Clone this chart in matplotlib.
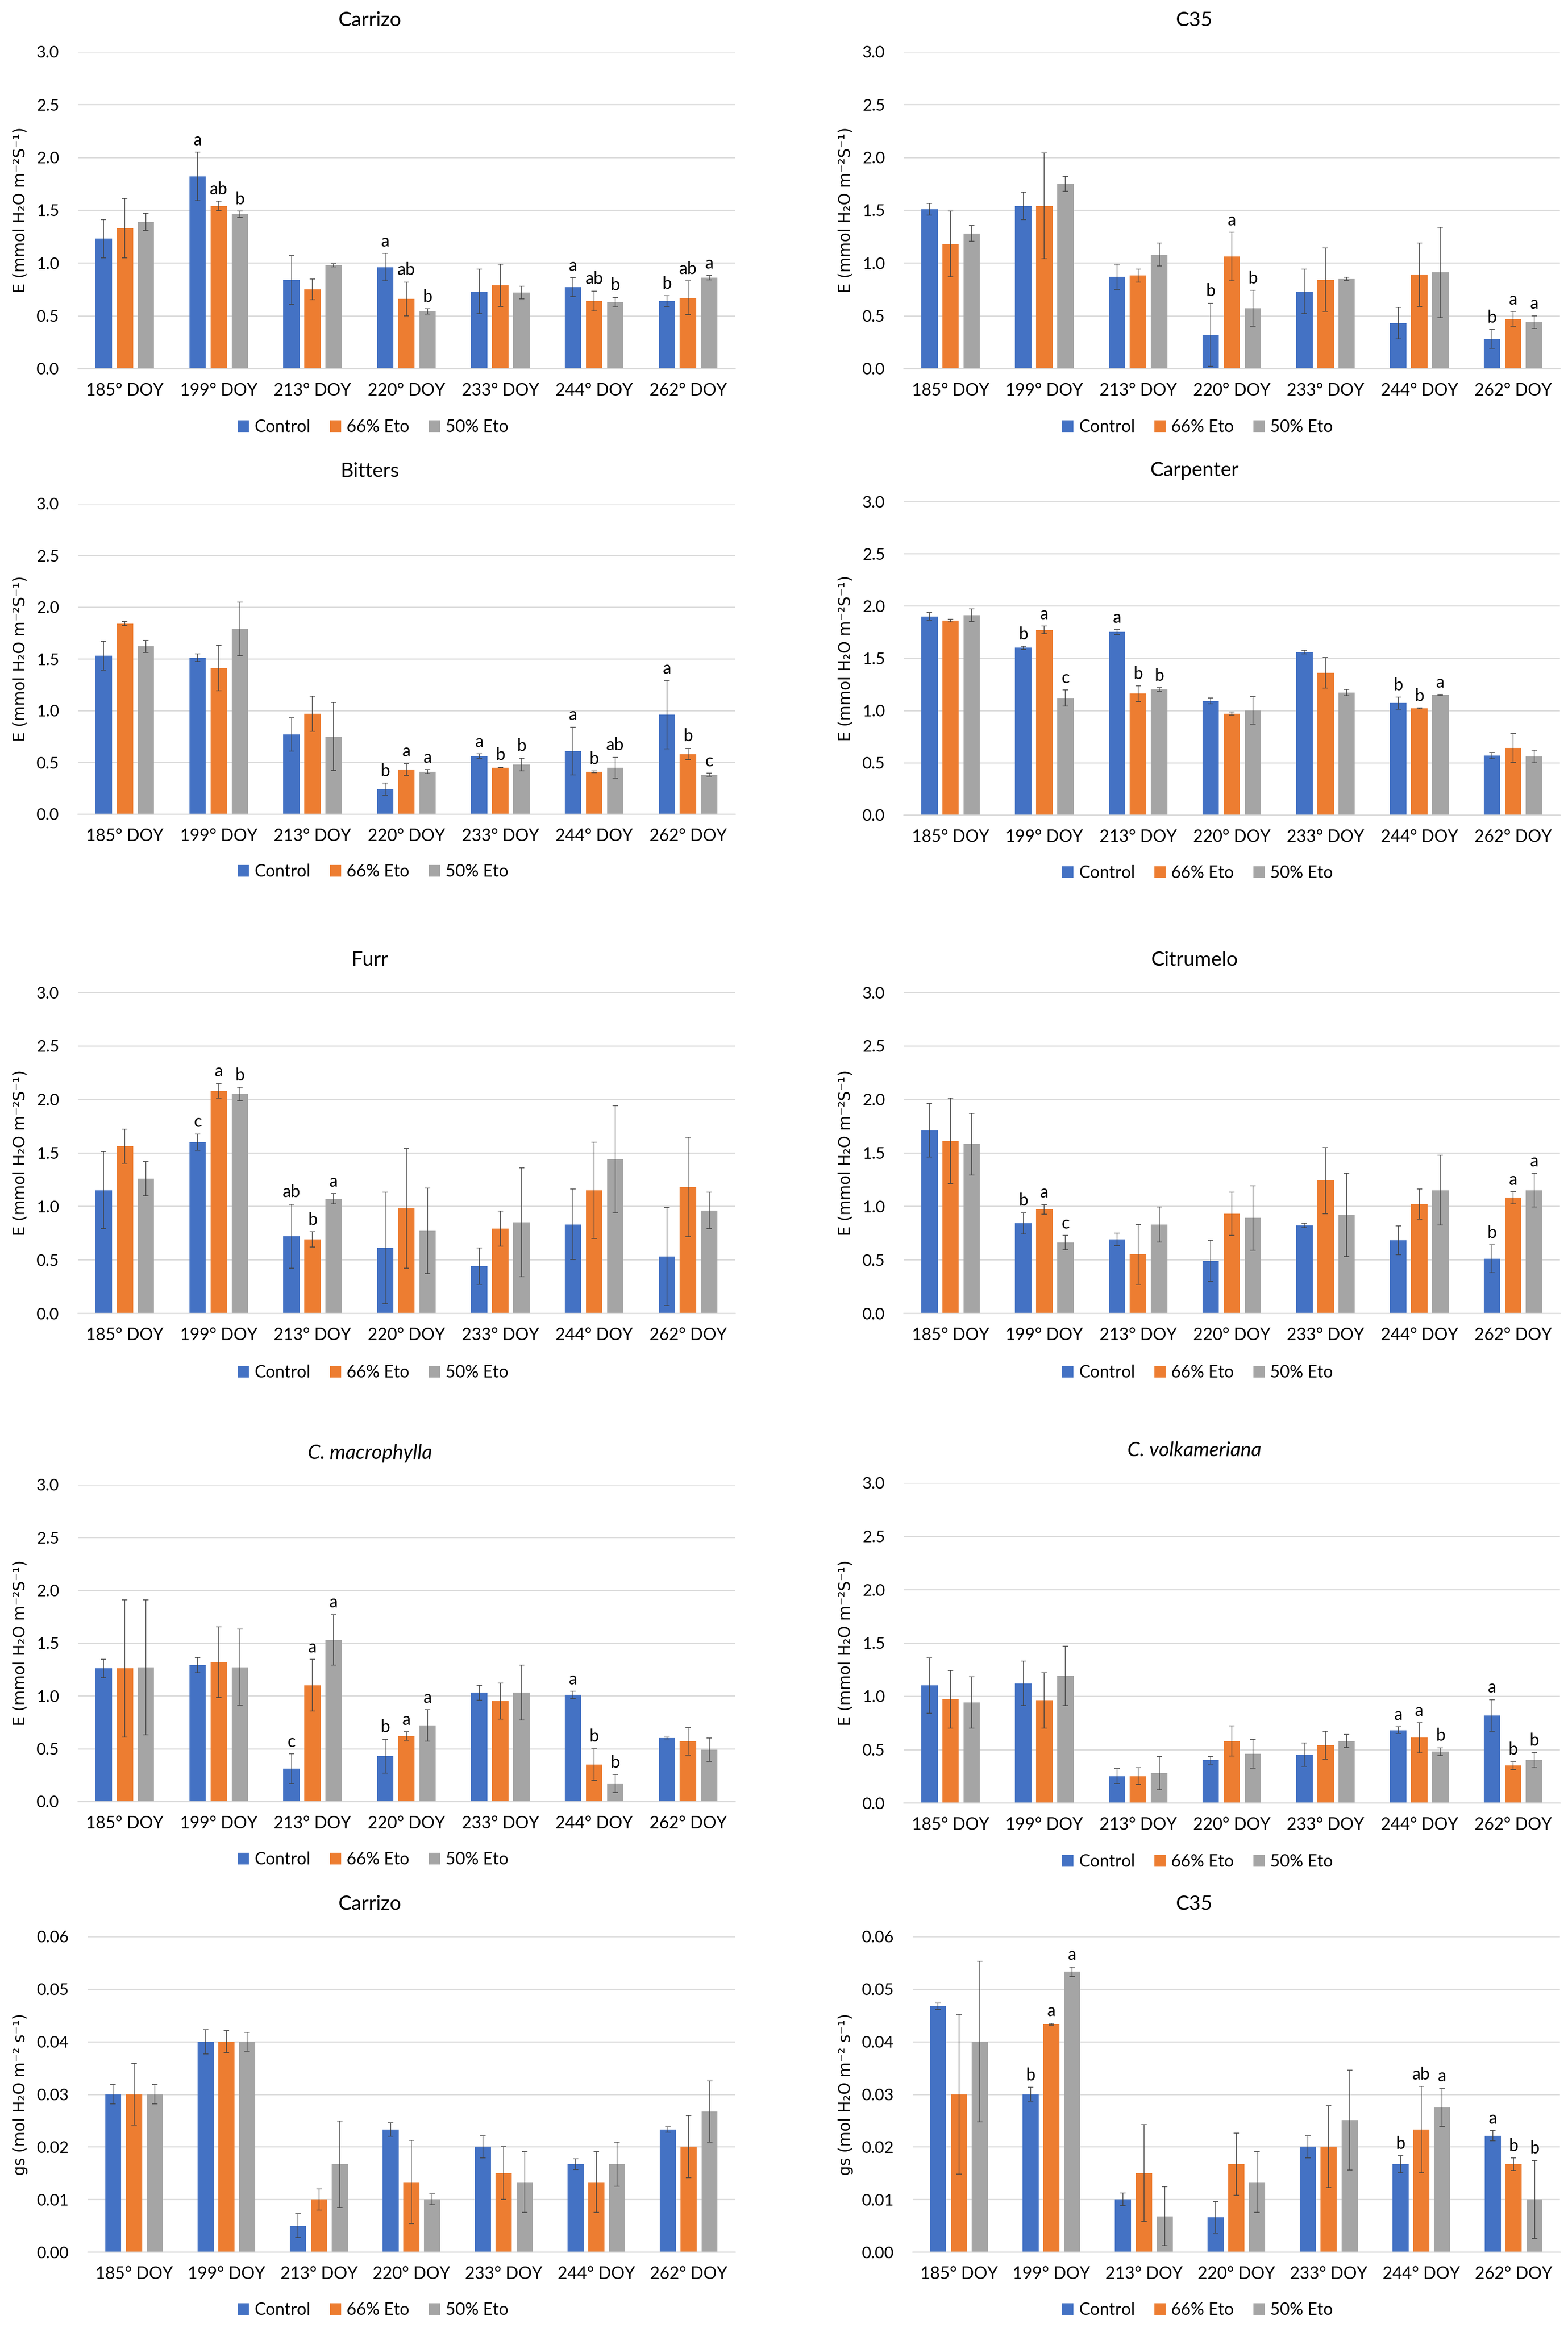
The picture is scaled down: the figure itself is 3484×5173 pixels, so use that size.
import matplotlib
matplotlib.use("Agg")
import matplotlib.pyplot as plt
import numpy as np
from matplotlib import font_manager
from matplotlib.ticker import FormatStrFormatter

doy_labels = ["185° DOY", "199° DOY", "213° DOY", "220° DOY", "233° DOY", "244° DOY", "262° DOY"]
treatments = ["Control", "66% Eto", "50% Eto"]
bar_colors = ["#4472C4", "#ED7D31", "#A5A5A5"]

# transpiration E (mmol H2O m-2 s-1): rows = Control, 66% Eto, 50% Eto
carrizo_e_mean = [[1.23, 1.82, 0.84, 0.96, 0.73, 0.77, 0.64],
                  [1.33, 1.54, 0.75, 0.66, 0.79, 0.64, 0.67],
                  [1.39, 1.46, 0.98, 0.54, 0.72, 0.63, 0.86]]
carrizo_e_err = [[0.18, 0.23, 0.23, 0.13, 0.21, 0.09, 0.05],
                 [0.28, 0.045, 0.10, 0.16, 0.20, 0.095, 0.16],
                 [0.08, 0.03, 0.015, 0.025, 0.06, 0.045, 0.02]]
carrizo_e_letters = [["", "a", "", "a", "", "a", "b"],
                     ["", "ab", "", "ab", "", "ab", "ab"],
                     ["", "b", "", "b", "", "b", "a"]]

c35_e_mean = [[1.51, 1.54, 0.87, 0.32, 0.73, 0.43, 0.28],
              [1.18, 1.54, 0.88, 1.06, 0.84, 0.89, 0.47],
              [1.28, 1.75, 1.08, 0.57, 0.85, 0.91, 0.44]]
c35_e_err = [[0.055, 0.13, 0.12, 0.30, 0.21, 0.15, 0.09],
             [0.31, 0.50, 0.06, 0.23, 0.30, 0.30, 0.07],
             [0.075, 0.07, 0.11, 0.17, 0.016, 0.43, 0.06]]
c35_e_letters = [["", "", "", "b", "", "", "b"],
                 ["", "", "", "a", "", "", "a"],
                 ["", "", "", "b", "", "", "a"]]

bitters_e_mean = [[1.53, 1.51, 0.77, 0.24, 0.56, 0.61, 0.96],
                  [1.84, 1.41, 0.97, 0.43, 0.45, 0.41, 0.58],
                  [1.62, 1.79, 0.75, 0.41, 0.48, 0.45, 0.38]]
bitters_e_err = [[0.14, 0.036, 0.16, 0.058, 0.022, 0.23, 0.33],
                 [0.02, 0.22, 0.17, 0.058, 0.004, 0.008, 0.056],
                 [0.058, 0.26, 0.33, 0.02, 0.061, 0.10, 0.014]]
bitters_e_letters = [["", "", "", "b", "a", "a", "a"],
                     ["", "", "", "a", "b", "b", "b"],
                     ["", "", "", "a", "b", "ab", "c"]]

carpenter_e_mean = [[1.90, 1.60, 1.75, 1.09, 1.56, 1.07, 0.57],
                    [1.86, 1.77, 1.16, 0.97, 1.36, 1.02, 0.64],
                    [1.91, 1.12, 1.20, 1.00, 1.17, 1.15, 0.56]]
carpenter_e_err = [[0.036, 0.014, 0.022, 0.028, 0.017, 0.058, 0.03],
                   [0.014, 0.036, 0.074, 0.016, 0.146, 0.005, 0.138],
                   [0.06, 0.077, 0.017, 0.13, 0.03, 0.003, 0.06]]
carpenter_e_letters = [["", "b", "a", "", "", "b", ""],
                       ["", "a", "b", "", "", "b", ""],
                       ["", "c", "b", "", "", "a", ""]]

furr_e_mean = [[1.15, 1.60, 0.72, 0.61, 0.44, 0.83, 0.53],
               [1.56, 2.08, 0.69, 0.98, 0.79, 1.15, 1.18],
               [1.26, 2.05, 1.07, 0.77, 0.85, 1.44, 0.96]]
furr_e_err = [[0.36, 0.076, 0.30, 0.52, 0.17, 0.33, 0.46],
              [0.16, 0.067, 0.07, 0.56, 0.165, 0.45, 0.465],
              [0.16, 0.062, 0.048, 0.40, 0.51, 0.50, 0.17]]
furr_e_letters = [["", "c", "ab", "", "", "", ""],
                  ["", "a", "b", "", "", "", ""],
                  ["", "b", "a", "", "", "", ""]]

citrumelo_e_mean = [[1.71, 0.84, 0.69, 0.49, 0.82, 0.68, 0.51],
                    [1.61, 0.97, 0.55, 0.93, 1.24, 1.02, 1.08],
                    [1.58, 0.66, 0.83, 0.89, 0.92, 1.15, 1.15]]
citrumelo_e_err = [[0.25, 0.10, 0.06, 0.19, 0.022, 0.135, 0.13],
                   [0.40, 0.045, 0.28, 0.20, 0.31, 0.14, 0.056],
                   [0.29, 0.067, 0.165, 0.30, 0.39, 0.325, 0.157]]
citrumelo_e_letters = [["", "b", "", "", "", "", "b"],
                       ["", "a", "", "", "", "", "a"],
                       ["", "c", "", "", "", "", "a"]]

macrophylla_e_mean = [[1.26, 1.29, 0.31, 0.43, 1.03, 1.01, 0.60],
                      [1.26, 1.32, 1.10, 0.62, 0.95, 0.35, 0.57],
                      [1.27, 1.27, 1.53, 0.72, 1.03, 0.17, 0.49]]
macrophylla_e_err = [[0.087, 0.073, 0.14, 0.16, 0.07, 0.034, 0.008],
                     [0.65, 0.335, 0.245, 0.039, 0.17, 0.15, 0.13],
                     [0.64, 0.36, 0.24, 0.15, 0.26, 0.084, 0.11]]
macrophylla_e_letters = [["", "", "c", "b", "", "a", ""],
                         ["", "", "a", "a", "", "b", ""],
                         ["", "", "a", "a", "", "b", ""]]

volkameriana_e_mean = [[1.10, 1.12, 0.25, 0.40, 0.45, 0.68, 0.82],
                       [0.97, 0.96, 0.25, 0.58, 0.54, 0.61, 0.35],
                       [0.94, 1.19, 0.28, 0.46, 0.58, 0.48, 0.40]]
volkameriana_e_err = [[0.26, 0.21, 0.07, 0.036, 0.11, 0.031, 0.148],
                      [0.27, 0.26, 0.078, 0.14, 0.13, 0.14, 0.036],
                      [0.24, 0.28, 0.156, 0.134, 0.061, 0.036, 0.072]]
volkameriana_e_letters = [["", "", "", "", "", "a", "a"],
                          ["", "", "", "", "", "a", "b"],
                          ["", "", "", "", "", "b", "b"]]

# stomatal conductance gs (mol H2O m-2 s-1)
carrizo_gs_mean = [[0.030, 0.040, 0.005, 0.0233, 0.020, 0.0167, 0.0233],
                   [0.030, 0.040, 0.010, 0.0133, 0.015, 0.0133, 0.020],
                   [0.030, 0.040, 0.0167, 0.010, 0.0133, 0.0167, 0.0267]]
carrizo_gs_err = [[0.0018, 0.0023, 0.0023, 0.0013, 0.0021, 0.001, 0.0005],
                  [0.0059, 0.0021, 0.002, 0.0079, 0.005, 0.0058, 0.0059],
                  [0.0018, 0.0018, 0.0082, 0.001, 0.0058, 0.0042, 0.0058]]

c35_gs_mean = [[0.0467, 0.030, 0.010, 0.0066, 0.020, 0.0167, 0.0221],
               [0.030, 0.0433, 0.015, 0.0167, 0.020, 0.0233, 0.0167],
               [0.040, 0.0533, 0.0068, 0.0133, 0.0251, 0.0275, 0.010]]
c35_gs_err = [[0.0006, 0.0013, 0.0012, 0.003, 0.0021, 0.0016, 0.001],
              [0.0152, 0.0002, 0.0092, 0.0059, 0.0078, 0.0082, 0.0012],
              [0.0153, 0.0009, 0.0056, 0.0058, 0.0095, 0.0036, 0.0074]]
c35_gs_letters = [["", "b", "", "", "", "b", "a"],
                  ["", "a", "", "", "", "ab", "b"],
                  ["", "a", "", "", "", "a", "b"]]

installed = {f.name for f in font_manager.fontManager.ttflist}
main_font = "Lato" if "Lato" in installed else "DejaVu Sans"
plt.rcParams["font.family"] = [main_font, "DejaVu Sans"]
plt.rcParams["mathtext.default"] = "regular"

W, H = 3484, 5173
fig = plt.figure(figsize=(W / 100, H / 100), dpi=100)

e_label = "E (mmol H₂O m⁻²S⁻¹)"
gs_label = "gs (mol H₂O m⁻² s⁻¹)"


def draw_panel(box, title, means, errs, letters, ymax, step, fmt, ylabel,
               title_xy, legend_xy, ylabel_x, italic=False):
    x0, y0, x1, y1 = box
    ax = fig.add_axes([x0 / W, 1 - y1 / H, (x1 - x0) / W, (y1 - y0) / H])
    x = np.arange(len(doy_labels))
    handles = []
    for i in range(3):
        pos = x + (i - 1) * 0.225
        b = ax.bar(pos, means[i], width=0.175, color=bar_colors[i],
                   label=treatments[i], zorder=2)
        handles.append(b)
        ax.errorbar(pos, means[i], yerr=errs[i], fmt="none", ecolor="#404040",
                    elinewidth=1.1, capsize=4, capthick=1.1, zorder=3)
        if letters:
            for j, txt in enumerate(letters[i]):
                if txt:
                    ax.annotate(txt, (pos[j], means[i][j] + errs[i][j]),
                                xytext=(0, 6), textcoords="offset points",
                                ha="center", va="bottom", fontsize=27)
    ax.set_xlim(-0.5, len(doy_labels) - 0.5)
    ax.set_ylim(0, ymax)
    ax.set_yticks(np.arange(0, ymax + step / 2, step))
    ax.yaxis.set_major_formatter(FormatStrFormatter(fmt))
    ax.set_xticks(x, doy_labels)
    ax.grid(axis="y", color="#D9D9D9", lw=1.8, zorder=0)
    ax.set_axisbelow(True)
    for s in ["top", "right", "left"]:
        ax.spines[s].set_visible(False)
    ax.spines["bottom"].set_color("#D9D9D9")
    ax.spines["bottom"].set_linewidth(1.8)
    ax.tick_params(axis="both", length=0)
    ax.tick_params(axis="x", labelsize=27, pad=22)
    ax.tick_params(axis="y", labelsize=26, pad=30)

    fig.text(title_xy[0] / W, 1 - title_xy[1] / H, title, fontsize=32,
             ha="center", va="center", style="italic" if italic else "normal")
    fig.text(ylabel_x / W, 1 - (y0 + y1) / 2 / H, ylabel, rotation=90,
             fontsize=25, ha="center", va="center", family="DejaVu Sans")
    fig.legend(handles, treatments, loc="center",
               bbox_to_anchor=(legend_xy[0] / W, 1 - legend_xy[1] / H),
               ncol=3, frameon=False, fontsize=27, handlelength=0.67,
               handleheight=0.67, handletextpad=0.32, columnspacing=1.15)


draw_panel((173, 115, 1633, 819), "Carrizo", carrizo_e_mean, carrizo_e_err,
           carrizo_e_letters, 3.0, 0.5, "%.1f", e_label, (822, 45), (829, 949), 45)
draw_panel((2008, 115, 3466, 819), "C35", c35_e_mean, c35_e_err,
           c35_e_letters, 3.0, 0.5, "%.1f", e_label, (2654, 45), (2661, 949), 1879)
draw_panel((173, 1119, 1633, 1809), "Bitters", bitters_e_mean, bitters_e_err,
           bitters_e_letters, 3.0, 0.5, "%.1f", e_label, (822, 1048), (829, 1937), 45)
draw_panel((2008, 1114, 3466, 1811), "Carpenter", carpenter_e_mean, carpenter_e_err,
           carpenter_e_letters, 3.0, 0.5, "%.1f", e_label, (2654, 1045), (2661, 1940), 1879)
draw_panel((173, 2205, 1633, 2918), "Furr", furr_e_mean, furr_e_err,
           furr_e_letters, 3.0, 0.5, "%.1f", e_label, (822, 2133), (829, 3050), 45)
draw_panel((2008, 2205, 3466, 2918), "Citrumelo", citrumelo_e_mean, citrumelo_e_err,
           citrumelo_e_letters, 3.0, 0.5, "%.1f", e_label, (2654, 2133), (2661, 3050), 1879)
draw_panel((173, 3299, 1633, 4003), "C. macrophylla", macrophylla_e_mean, macrophylla_e_err,
           macrophylla_e_letters, 3.0, 0.5, "%.1f", e_label, (822, 3229), (829, 4132), 45,
           italic=True)
draw_panel((2008, 3295, 3466, 4006), "C. volkameriana", volkameriana_e_mean, volkameriana_e_err,
           volkameriana_e_letters, 3.0, 0.5, "%.1f", e_label, (2654, 3224), (2661, 4137), 1879,
           italic=True)
draw_panel((195, 4303, 1633, 5004), "Carrizo", carrizo_gs_mean, carrizo_gs_err,
           None, 0.06, 0.01, "%.2f", gs_label, (822, 4232), (829, 5133), 45)
draw_panel((2028, 4303, 3466, 5004), "C35", c35_gs_mean, c35_gs_err,
           c35_gs_letters, 0.06, 0.01, "%.2f", gs_label, (2654, 4232), (2661, 5133), 1879)

fig.savefig("out.png", dpi=100, facecolor="white")
